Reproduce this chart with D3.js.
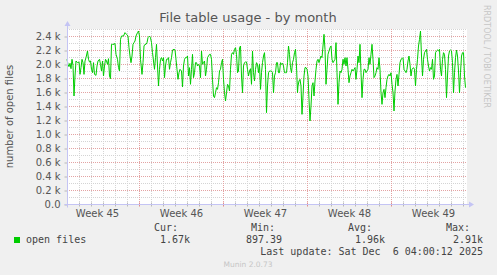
<!DOCTYPE html>
<html>
<head>
<meta charset="utf-8">
<script src="https://cdn.jsdelivr.net/npm/d3@7"></script>
<style>
	body { margin: 0; background: #f0f0f0; }
	svg { display: block; }
	text { font-family: "DejaVu Sans", sans-serif; fill: #555; }
	text.mono { font-family: "DejaVu Sans Mono", monospace; white-space: pre; fill: #444; }
</style>
</head>
<body>
<div id="chart"></div>
<script>
// Texts
const title = "File table usage - by month";
const yLabel = "number of open files";
const seriesName = "open files";
const statLabels = ["Cur:", "Min:", "Avg:", "Max:"];
const statValues = ["1.67k", "897.39", "1.96k", "2.91k"];
const lastUpdate = "Last update: Sat Dec  6 04:00:12 2025";
const credit = "RRDTOOL / TOBI OETIKER";
const version = "Munin 2.0.73";

// Time span shown (hours after start)
const start = new Date(Date.UTC(2025, 10, 4));
const spanHours = 800;

// Y axis
const yMax = 2500;
const yTicks = [0, 200, 400, 600, 800, 1000, 1200, 1400, 1600, 1800, 2000, 2200, 2400];

// open files: [hours after start, value]
const openFiles = [
	[0, 2067], [2, 1995], [4, 1962], [6, 2010], [8, 1933], [10, 2067], [12, 1981], [14, 1543],
	[16, 1829], [18, 2043], [21, 2019], [24, 2029], [26, 1852], [28, 1948], [30, 2067], [32, 2019],
	[34, 1852], [36, 2043], [38, 2091], [41, 2186], [43, 2067], [45, 2029], [47, 2043], [49, 1924],
	[51, 1876], [53, 2019], [55, 1852], [58, 1838], [60, 1971], [62, 2043], [65, 2067], [67, 1995],
	[69, 1900], [71, 2043], [73, 1829], [75, 1971], [77, 2067], [79, 2043], [81, 1995], [83, 2076],
	[85, 1829], [87, 1791], [89, 2281], [91, 2281], [94, 2281], [96, 2295], [98, 2138], [101, 2067],
	[103, 1948], [105, 1900], [107, 2352], [109, 2400],
	[113, 2400], [116, 2448], [119, 2424], [122, 2400], [124, 2233], [126, 2114], [128, 2019], [130, 2114],
	[132, 2281], [134, 2305], [136, 2329], [138, 2400], [141, 2448], [143, 2471], [145, 2400], [147, 2067],
	[150, 1852], [152, 2019], [154, 2257], [156, 2281], [158, 2281], [160, 2305], [162, 2376], [165, 2400],
	[167, 2376], [169, 2305], [171, 2162], [173, 2043], [175, 1924], [177, 2091], [179, 2281], [181, 1971],
	[183, 1686], [185, 1924], [187, 2067], [189, 2091], [191, 2043], [193, 2091], [195, 1805], [197, 1971],
	[199, 2067], [201, 2067], [203, 2091], [205, 1924], [207, 2019], [209, 2091], [211, 2200], [214, 2210],
	[216, 2200], [218, 2067], [220, 1924], [222, 1781], [224, 1876], [226, 1924],
	[229, 1900], [231, 1671], [233, 1971], [235, 2067], [237, 2091], [239, 2091], [241, 2114], [243, 1829],
	[245, 1948], [247, 1710], [249, 1924], [251, 2138], [253, 1805], [255, 1876], [257, 2019], [259, 2019],
	[261, 1971], [263, 1995], [265, 1971], [267, 1805], [269, 2186], [271, 1995], [273, 2019], [275, 2043],
	[277, 1829], [279, 1924], [281, 2091], [283, 2114], [285, 2138], [287, 2138], [289, 2067], [291, 1781],
	[293, 1543], [295, 1519], [297, 1590], [299, 1662], [301, 1638], [303, 1733], [305, 1900], [307, 1924],
	[309, 2019], [311, 2067], [313, 1781], [315, 1590], [317, 1471], [319, 1590], [321, 1710], [323, 1686],
	[325, 1614], [327, 1924], [329, 2138], [331, 2162], [333, 2138], [335, 2210], [337, 2233], [339, 2138],
	[341, 1876], [343, 1900], [345, 2233],
	[347, 2257], [349, 1829], [351, 1590], [353, 1971], [355, 2019], [357, 2029], [359, 2029], [361, 1924],
	[363, 1829], [365, 1900], [367, 1933], [369, 1710], [371, 2186], [373, 1876], [375, 1757], [377, 1924],
	[379, 2019], [381, 1995], [383, 1876], [385, 1995], [387, 1638], [389, 1876], [391, 2019], [393, 2114],
	[395, 2162], [397, 1924], [399, 1305], [401, 1686], [403, 1876], [405, 1900], [407, 1900], [409, 1900],
	[411, 1876], [413, 1590], [415, 1829], [417, 1876], [419, 2019], [421, 2019], [423, 1876], [425, 1876],
	[427, 2019], [429, 1995], [431, 2010], [433, 1971], [435, 1876], [437, 1876], [439, 1876], [441, 2019],
	[443, 2257], [445, 2138], [447, 1948], [449, 1876], [451, 2019], [453, 2067], [455, 2162], [457, 2210],
	[459, 1971], [461, 1590],
	[462, 1686], [464, 1757], [466, 1781], [468, 1686], [470, 1281], [472, 1543], [474, 1829], [476, 1948],
	[478, 1948], [480, 1924], [482, 1829], [484, 1495], [486, 1186], [488, 1400], [490, 1686], [492, 1733],
	[494, 1543], [496, 1757], [498, 1924], [500, 2043], [502, 2067], [504, 2019], [506, 2067], [508, 2114],
	[510, 2091], [512, 2257], [514, 2424], [516, 2210], [518, 1710], [520, 1924], [522, 2138], [524, 2186],
	[526, 2233], [528, 2257], [530, 2067], [532, 2019], [534, 2043], [536, 2067], [538, 2305], [540, 1876],
	[542, 1424], [544, 1733], [546, 1900], [548, 1876], [550, 1924], [552, 2067], [554, 1995], [556, 2091],
	[558, 1971], [560, 2091], [562, 1924], [564, 1733], [566, 1829], [568, 1876], [570, 1924], [572, 1900],
	[574, 1924],
	[576, 1948], [578, 1781], [580, 1924], [582, 2114], [584, 2019], [586, 2281], [588, 1876], [590, 1519],
	[592, 1781], [594, 1924], [596, 1924], [598, 1876], [600, 1900], [602, 1924], [604, 2091], [606, 1995],
	[608, 2138], [610, 2281], [612, 2067], [614, 1805], [616, 1829], [618, 1876], [620, 1948], [622, 1924],
	[624, 2091], [626, 1924], [628, 1590], [630, 1424], [632, 1590], [634, 1638], [636, 1519], [638, 1662],
	[640, 1781], [642, 1829], [644, 1852], [646, 1829], [648, 1876], [650, 1710], [652, 1590], [654, 1329],
	[656, 1614], [658, 1781], [660, 1852], [662, 1686], [664, 1852], [666, 2019], [668, 2067], [670, 2076],
	[672, 2091], [674, 1924], [676, 1900], [678, 1876], [680, 1924], [682, 2043], [684, 2114], [686, 1995],
	[688, 1829], [690, 1924],
	[693, 1948], [695, 1924], [697, 1686], [699, 1924], [701, 2067], [703, 2257], [705, 2352], [707, 2471],
	[709, 2114], [711, 1829], [713, 2067], [715, 2162], [717, 2186], [719, 2210], [721, 2067], [723, 1971],
	[725, 1900], [727, 1948], [729, 1924], [731, 2067], [733, 1781], [735, 1829], [737, 2162], [739, 2186],
	[741, 2200], [743, 2186], [745, 2210], [747, 1924], [749, 1829], [751, 2067], [753, 2162], [755, 2138],
	[757, 1924], [759, 1519], [761, 1829], [763, 2114], [765, 2186], [767, 2200], [769, 2186], [771, 2019],
	[773, 1590], [775, 1876], [777, 2091], [779, 2200], [781, 2114], [783, 1900], [785, 1590], [787, 1876],
	[789, 2114], [791, 2162], [793, 2162], [795, 1829], [797, 1662]
];

class MuninGraph {
	width; height; margin;
	svg;
	scaleX; scaleY;
	days; mondays;

	constructor(container, width, height, margin) {
		this.width = width;
		this.height = height;
		this.margin = margin; // [top, bottom, left, right]

		this.svg = d3.select(container).append("svg")
			.attr("width", width).attr("height", height);
		this.svg.append("rect")
			.attr("width", width).attr("height", height).attr("fill", "#f0f0f0");
	}

	#updateScales() {
		let [top, bottom, left, right] = this.margin;
		this.scaleX = d3.scaleUtc()
			.domain([start, d3.utcHour.offset(start, spanHours)])
			.range([left, this.width - right]);
		this.scaleY = d3.scaleLinear()
			.domain([0, yMax])
			.range([this.height - bottom, top]);
	}

	#drawGrid() {
		let [x0, x1] = this.scaleX.range(), [y0, y1] = this.scaleY.range();
		this.svg.append("rect")
			.attr("x", x0).attr("y", y1).attr("width", x1 - x0).attr("height", y0 - y1)
			.attr("fill", "#ffffff");

		let g = this.svg.append("g").attr("stroke-dasharray", "1,1").attr("stroke-width", 1);
		let minorY = d3.range(100, yMax + 1, 100).filter((v) => v % 200 !== 0);
		let majorY = yTicks.filter((v) => v > 0);
		let end = this.scaleX.domain()[1];
		this.days = d3.utcDay.range(d3.utcDay.offset(start, 1), end);
		this.mondays = d3.utcMonday.range(start, end);
		let minorX = this.days.filter((d) => d.getUTCDay() !== 1);

		let px = (v) => Math.round(v) + 0.5;

		g.selectAll("line.minor-y").data(minorY).join("line")
			.attr("x1", x0).attr("x2", x1)
			.attr("y1", (d) => px(this.scaleY(d))).attr("y2", (d) => px(this.scaleY(d)))
			.attr("stroke", "#d4d4d4");
		g.selectAll("line.minor-x").data(minorX).join("line")
			.attr("y1", y0).attr("y2", y1)
			.attr("x1", (d) => px(this.scaleX(d))).attr("x2", (d) => px(this.scaleX(d)))
			.attr("stroke", "#d4d4d4");
		g.selectAll("line.major-y").data(majorY).join("line")
			.attr("x1", x0).attr("x2", x1)
			.attr("y1", (d) => px(this.scaleY(d))).attr("y2", (d) => px(this.scaleY(d)))
			.attr("stroke", "#e3a3a3");
		g.selectAll("line.major-x").data(this.mondays).join("line")
			.attr("y1", y0).attr("y2", y1)
			.attr("x1", (d) => px(this.scaleX(d))).attr("x2", (d) => px(this.scaleX(d)))
			.attr("stroke", "#e3a3a3");
	}

	#drawAxes() {
		let [x0, x1] = this.scaleX.range(), [y0, y1] = this.scaleY.range();
		let bottom = Math.round(y0) + 0.5, left = Math.round(x0) + 0.5;
		let end = this.scaleX.domain()[1];

		// tick marks on the time axis
		this.svg.append("g").selectAll("line").data(this.days).join("line")
			.attr("x1", (d) => Math.round(this.scaleX(d)) + 0.5)
			.attr("x2", (d) => Math.round(this.scaleX(d)) + 0.5)
			.attr("y1", bottom - 2).attr("y2", bottom + 2)
			.attr("stroke", (d) => d.getUTCDay() === 1 ? "#e08a8a" : "#b8b8b8");

		// week labels, centred in each week
		let weekCentres = d3.utcMonday.range(d3.utcMonday.offset(start, -1), end)
			.map((d) => d3.utcHour.offset(d, 84))
			.filter((d) => d > start && d < end);
		let axisX = d3.axisBottom(this.scaleX)
			.tickValues(weekCentres)
			.tickFormat(d3.utcFormat("Week %V"))
			.tickSize(0).tickPadding(5);
		this.svg.append("g")
			.attr("transform", `translate(0, ${bottom})`)
			.call(axisX)
			.call((g) => g.select(".domain").remove())
			.selectAll("text").attr("font-size", 10).attr("font-family", null).attr("fill", "#555");

		let axisY = d3.axisLeft(this.scaleY)
			.tickValues(yTicks)
			.tickFormat((d) => d === 0 ? "0.0" : `${d3.format(".1f")(d / 1000)} k`)
			.tickSize(3).tickPadding(4);
		this.svg.append("g")
			.attr("transform", `translate(${left}, 0)`)
			.call(axisY)
			.call((g) => g.select(".domain").remove())
			.call((g) => g.selectAll(".tick line").attr("stroke", "#b8b8b8")
				.attr("transform", "translate(0, 0.5)"))
			.selectAll("text").attr("font-size", 10).attr("font-family", null).attr("fill", "#555");

		// axis lines with arrows
		let axisColor = "#c4c4f4";
		this.svg.append("line")
			.attr("x1", left - 3).attr("x2", x1 + 3).attr("y1", bottom).attr("y2", bottom)
			.attr("stroke", axisColor);
		this.svg.append("line")
			.attr("x1", left).attr("x2", left).attr("y1", bottom + 3).attr("y2", y1 - 4)
			.attr("stroke", axisColor);
		this.svg.append("path")
			.attr("d", `M${x1 + 2},${bottom - 3}L${x1 + 7},${bottom}L${x1 + 2},${bottom + 3}Z`)
			.attr("fill", axisColor);
		this.svg.append("path")
			.attr("d", `M${left - 3},${y1 - 3}L${left},${y1 - 8}L${left + 3},${y1 - 3}Z`)
			.attr("fill", axisColor);
	}

	#drawLine() {
		let line = d3.line()
			.x((d) => this.scaleX(d3.utcHour.offset(start, d[0])))
			.y((d) => this.scaleY(d[1]));
		this.svg.append("path")
			.datum(openFiles)
			.attr("d", line)
			.attr("fill", "none")
			.attr("stroke", "#00cc00")
			.attr("stroke-width", 1)
			.attr("stroke-linejoin", "round");
	}

	#drawTexts() {
		let midY = (this.scaleY.range()[0] + this.scaleY.range()[1]) / 2;

		this.svg.append("text")
			.attr("x", 248).attr("y", 22)
			.attr("text-anchor", "middle").attr("font-size", 13)
			.text(title);

		this.svg.append("text")
			.attr("transform", `translate(13, ${midY}) rotate(-90)`)
			.attr("text-anchor", "middle").attr("font-size", 10)
			.text(yLabel);

		this.svg.append("text")
			.attr("transform", `translate(484, 5) rotate(90)`)
			.attr("font-size", 8).style("fill", "#c6c6c6")
			.text(credit);

		// legend
		this.svg.append("rect")
			.attr("x", 14).attr("y", 237).attr("width", 6).attr("height", 6)
			.attr("fill", "#00cc00");
		this.svg.append("text").classed("mono", true)
			.attr("x", 26).attr("y", 243).attr("font-size", 10)
			.text(seriesName);

		let headerX = [178, 275, 372, 470], valueX = [190, 282, 385, 483];
		this.svg.append("g").selectAll("text").data(statLabels).join("text")
			.classed("mono", true)
			.attr("x", (d, i) => headerX[i]).attr("y", 231)
			.attr("text-anchor", "end").attr("font-size", 10)
			.text((d) => d);
		this.svg.append("g").selectAll("text").data(statValues).join("text")
			.classed("mono", true)
			.attr("x", (d, i) => valueX[i]).attr("y", 243)
			.attr("text-anchor", "end").attr("font-size", 10)
			.text((d) => d);

		this.svg.append("text").classed("mono", true)
			.attr("x", 483).attr("y", 255)
			.attr("text-anchor", "end").attr("font-size", 10)
			.text(lastUpdate);

		this.svg.append("text")
			.attr("x", 248).attr("y", 267)
			.attr("text-anchor", "middle").attr("font-size", 7.5).style("fill", "#c6c6c6")
			.text(version);
	}

	render() {
		this.#updateScales();
		this.#drawGrid();
		this.#drawLine();
		this.#drawAxes();
		this.#drawTexts();
		return this;
	}
}

new MuninGraph("#chart", 497, 275, [29, 71, 67, 30]).render();
</script>
</body>
</html>
